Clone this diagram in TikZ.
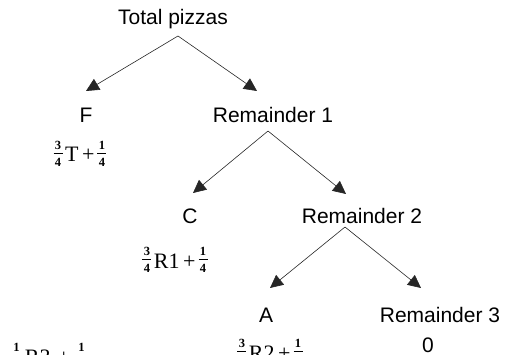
\documentclass[tikz,border=0pt]{standalone}
\usepackage[no-math]{fontspec}
\setmainfont{Liberation Sans}
\newfontfamily\fmlfont{Liberation Serif}
\usetikzlibrary{arrows.meta}
\newcommand\myfr[2]{\raisebox{-4.5pt}{\vbox{\hsize=9pt\offinterlineskip
  \hbox to 9pt{\hss\fontsize{12.5}{12}\selectfont\fmlfont\bfseries #1\hss}%
  \kern3.2pt\hrule height 1.3pt\kern4pt
  \hbox to 9pt{\hss\fontsize{12.5}{12}\selectfont\fmlfont\bfseries #2\hss}}}}
\begin{document}
\begin{tikzpicture}[x=1pt,y=-1pt,
 lbl/.style={anchor=base,inner sep=0pt,font=\fontsize{21}{24}\selectfont},
 fml/.style={anchor=base,inner sep=0pt,font=\fontsize{22}{24}\selectfont\fmlfont},
 arr/.style={line width=0.6pt,draw=black!85,-{Triangle[length=13pt,width=12.5pt]}}]
\useasboundingbox (0,0) rectangle (505,355);
\clip (0,0) rectangle (505,355);
% labels
\node[lbl] (tp) at (173,25) {Total pizzas};
\node[lbl] (F)  at (86,123) {F};
\node[lbl] (R1) at (273,123) {Remainder 1};
\node[lbl] (C)  at (190,223) {C};
\node[lbl] (R2) at (362,223) {Remainder 2};
\node[lbl] (A)  at (266,322) {A};
\node[lbl] (R3) at (440,322) {Remainder 3};
% formulas
\node[fml] (fF) at (80,162) {\myfr{3}{4}\kern2.5pt T\kern3.5pt+\kern3pt\myfr{1}{4}};
\node[fml] (fC) at (175,268) {\myfr{3}{4}\kern2.5pt R1\kern3.5pt+\kern3pt\myfr{1}{4}};
\node[fml] (fA) at (270,360) {\myfr{3}{4}\kern2.5pt R2\kern3.5pt+\kern3pt\myfr{1}{4}};
\node[lbl] (f0) at (428,352) {0};
\node[fml] (fR) at (49,364) {\myfr{1}{4}\kern4pt R3\kern7pt+\kern7pt\myfr{1}{4}};
% connectors
\draw[arr] ([shift={(5,11)}]tp.base) -- ([shift={(0,-32)}]F.base);
\draw[arr] ([shift={(5,11)}]tp.base) -- ([shift={(-16,-32)}]R1.base);
\draw[arr] ([shift={(-5,8)}]R1.base) -- ([shift={(3,-30)}]C.base);
\draw[arr] ([shift={(-5,8)}]R1.base) -- ([shift={(-16,-29)}]R2.base);
\draw[arr] ([shift={(-17,4)}]R2.base) -- ([shift={(4,-34)}]A.base);
\draw[arr] ([shift={(-17,4)}]R2.base) -- ([shift={(-19,-34)}]R3.base);
\end{tikzpicture}
\end{document}
